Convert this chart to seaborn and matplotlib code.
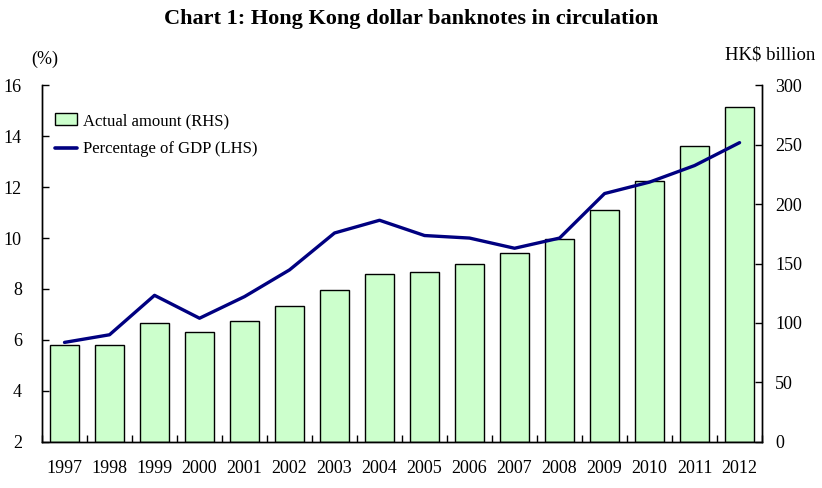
import numpy as np
import pandas as pd
import matplotlib
matplotlib.use("Agg")
import matplotlib.pyplot as plt
import seaborn as sns
from matplotlib.patches import Patch
from matplotlib.lines import Line2D

# Chart data
years = ['1997', '1998', '1999', '2000', '2001', '2002', '2003', '2004',
         '2005', '2006', '2007', '2008', '2009', '2010', '2011', '2012']
amount = [81, 81, 99.5, 92, 102, 114, 128, 141.5,
          142.5, 150, 158.5, 170.5, 195, 219.5, 249, 282]   # HK$ billion (RHS)
pct_gdp = [5.9, 6.2, 7.75, 6.85, 7.7, 8.75, 10.2, 10.7,
           10.1, 10.0, 9.6, 10.0, 11.75, 12.2, 12.85, 13.75]  # % of GDP (LHS)

df = pd.DataFrame({'year': years, 'amount': amount, 'pct': pct_gdp})

sns.set_style("white")
plt.rcParams['font.family'] = ['Liberation Serif', 'DejaVu Serif']
plt.rcParams['text.color'] = 'black'

fig = plt.figure(figsize=(8.22, 4.88), dpi=100)
ax1 = fig.add_axes([0.0511, 0.095, 0.876, 0.730])
ax2 = ax1.twinx()

# bars on the right axis, line on the left axis drawn above
sns.barplot(data=df, x='year', y='amount', ax=ax2, color='#ccffcc',
            edgecolor='black', linewidth=1.0, width=0.64, saturation=1)
sns.lineplot(data=df, x='year', y='pct', ax=ax1, color='#000080',
             linewidth=2.4, sort=False)
ax1.set_zorder(ax2.get_zorder() + 1)
ax1.patch.set_visible(False)

ax1.set_xlim(-0.5, len(years) - 0.5)
ax1.set_ylim(2, 16)
ax1.set_yticks(range(2, 17, 2))
ax2.set_ylim(0, 300)
ax2.set_yticks(range(0, 301, 50))
ax1.set_xlabel('')
ax1.set_ylabel('')
ax2.set_xlabel('')
ax2.set_ylabel('')

for ax in (ax1, ax2):
    ax.spines['top'].set_visible(False)
    for s in ('left', 'right', 'bottom'):
        ax.spines[s].set_color('black')
        ax.spines[s].set_linewidth(1.0)

ax1.tick_params(axis='y', direction='in', length=5, width=1, pad=14.5,
                labelsize=13, colors='black')
ax2.tick_params(axis='y', direction='in', length=5, width=1, pad=9.5,
                labelsize=13, colors='black')
ax1.set_xticks(np.arange(len(years)))
ax1.set_xticklabels(years)
ax1.set_xticks(np.arange(-0.5, len(years), 1), minor=True)
ax1.tick_params(axis='x', which='major', length=0, pad=13, labelsize=13,
                colors='black')
ax1.tick_params(axis='x', which='minor', direction='in', length=5, width=1,
                bottom=True, colors='black')

handles = [Patch(facecolor='#ccffcc', edgecolor='black', linewidth=1.0),
           Line2D([0], [0], color='#000080', linewidth=2.6)]
ax1.legend(handles, ['Actual amount (RHS)', 'Percentage of GDP (LHS)'],
           loc='upper left', bbox_to_anchor=(0.0, 0.96), frameon=False,
           fontsize=12, handlelength=1.3, handleheight=0.75,
           handletextpad=0.35, labelspacing=0.75, borderaxespad=0.4)

fig.text(0.5, 0.962, 'Chart 1: Hong Kong dollar banknotes in circulation',
         ha='center', va='center', fontsize=16, fontweight='bold',
         color='black')
fig.text(0.055, 0.878, '(%)', ha='center', va='center', fontsize=13,
         color='black')
fig.text(0.992, 0.887, 'HK$ billion', ha='right', va='center', fontsize=13.5,
         color='black')

fig.savefig('out.png', dpi=100)
